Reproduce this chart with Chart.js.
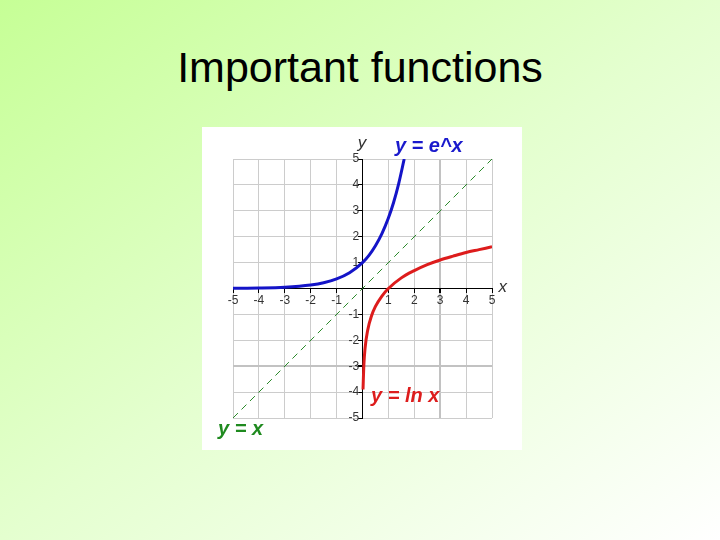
<!DOCTYPE html>
<html>
<head>
<meta charset="utf-8">
<script src="https://cdn.jsdelivr.net/npm/chart.js@4/dist/chart.umd.min.js"></script>
<style>
  html, body { margin: 0; padding: 0; }
  body {
    width: 720px; height: 540px; overflow: hidden; position: relative;
    background: linear-gradient(to bottom right, #c6ff96 0%, #e4ffcf 50%, #ffffff 100%);
    font-family: "Liberation Sans", Arial, sans-serif;
  }
  #title {
    position: absolute; left: 0; top: 46px; width: 720px;
    text-align: center; font-size: 43px; line-height: 43px; color: #000;
  }
  #box {
    position: absolute; left: 202px; top: 127px; width: 320px; height: 323px;
    background: #fff;
  }
</style>
</head>
<body>
<div id="title">Important functions</div>
<div id="box"><canvas id="graph"></canvas></div>
<script>
const expX = [-5, -4, -3, -2, -1.5, -1, -0.5, 0, 0.25, 0.5, 0.75, 1, 1.2, 1.4, 1.61];
const expY = [0.007, 0.018, 0.05, 0.135, 0.22, 0.37, 0.61, 1, 1.28, 1.65, 2.12, 2.72, 3.32, 4.06, 5.0];

const lnX = [0.02, 0.05, 0.1, 0.2, 0.35, 0.5, 0.75, 1, 1.5, 2, 2.5, 3, 3.5, 4, 4.5, 5];
const lnY = [-3.9, -3.0, -2.3, -1.61, -1.05, -0.69, -0.29, 0, 0.41, 0.69, 0.92, 1.1, 1.25, 1.39, 1.5, 1.61];

const idX = [-5, 5];
const idY = [-5, 5];

const axisMin = -5;
const axisMax = 5;

// text labels placed in data coordinates
const notes = [
  { text: 'y = e^x', x: 1.25, y: 5.26, color: '#1a1acc', font: 'italic bold 20px "Liberation Sans", Arial' },
  { text: 'y = ln x', x: 0.33, y: -4.37, color: '#dd1c1c', font: 'italic bold 20px "Liberation Sans", Arial' },
  { text: 'y = x', x: -5.58, y: -5.65, color: '#1f8a1f', font: 'italic bold 20px "Liberation Sans", Arial' },
  { text: 'y', x: -0.18, y: 5.42, color: '#333', font: 'italic 17px "Liberation Sans", Arial' },
  { text: 'x', x: 5.25, y: -0.15, color: '#333', font: 'italic 17px "Liberation Sans", Arial' }
];

function toPoints(xs, ys) {
  return xs.map((x, i) => ({ x: x, y: ys[i] }));
}

const notesPlugin = {
  id: 'notes',
  afterDraw(chart) {
    const c = chart.ctx;
    const sx = chart.scales.x, sy = chart.scales.y;
    c.save();
    c.textAlign = 'left';
    c.textBaseline = 'alphabetic';
    notes.forEach(n => {
      c.font = n.font;
      c.fillStyle = n.color;
      c.fillText(n.text, sx.getPixelForValue(n.x), sy.getPixelForValue(n.y));
    });
    c.restore();
  }
};

function gridStyle(special) {
  return {
    color: ctx => ctx.tick && ctx.tick.value === special ? '#c2c2c2' : '#cccccc',
    lineWidth: ctx => ctx.tick && ctx.tick.value === special ? 2 : 1,
    tickLength: 4,
    tickColor: '#000',
    drawTicks: true
  };
}

const tickFont = { family: '"Liberation Sans", Arial', size: 12 };

new Chart(document.getElementById('graph'), {
  type: 'line',
  data: {
    datasets: [
      {
        data: toPoints(idX, idY),
        borderColor: '#2a8a2a',
        borderWidth: 1,
        borderDash: [7, 5],
        pointRadius: 0
      },
      {
        data: toPoints(expX, expY),
        borderColor: '#1414c8',
        borderWidth: 3,
        pointRadius: 0,
        cubicInterpolationMode: 'monotone'
      },
      {
        data: toPoints(lnX, lnY),
        borderColor: '#dd1c1c',
        borderWidth: 3,
        pointRadius: 0,
        cubicInterpolationMode: 'monotone'
      }
    ]
  },
  options: {
    responsive: true,
    maintainAspectRatio: false,
    animation: false,
    layout: { padding: { left: 31, right: 30, top: 32, bottom: 32 } },
    plugins: { legend: { display: false }, tooltip: { enabled: false } },
    scales: {
      x: {
        type: 'linear',
        position: { y: 0 },
        min: axisMin, max: axisMax,
        grid: gridStyle(3),
        border: { color: '#000', width: 1 },
        ticks: {
          stepSize: 1, color: '#333', font: tickFont, padding: 1,
          maxRotation: 0, autoSkip: false,
          callback: v => v === 0 ? '' : v
        }
      },
      y: {
        type: 'linear',
        position: { x: 0 },
        min: axisMin, max: axisMax,
        grid: gridStyle(-3),
        border: { color: '#000', width: 1 },
        ticks: {
          stepSize: 1, color: '#333', font: tickFont,
          autoSkip: false,
          // centred axis puts labels flush on the line, pad with a space
          callback: v => v === 0 ? '' : v + ' '
        }
      }
    }
  },
  plugins: [notesPlugin]
});
</script>
</body>
</html>
